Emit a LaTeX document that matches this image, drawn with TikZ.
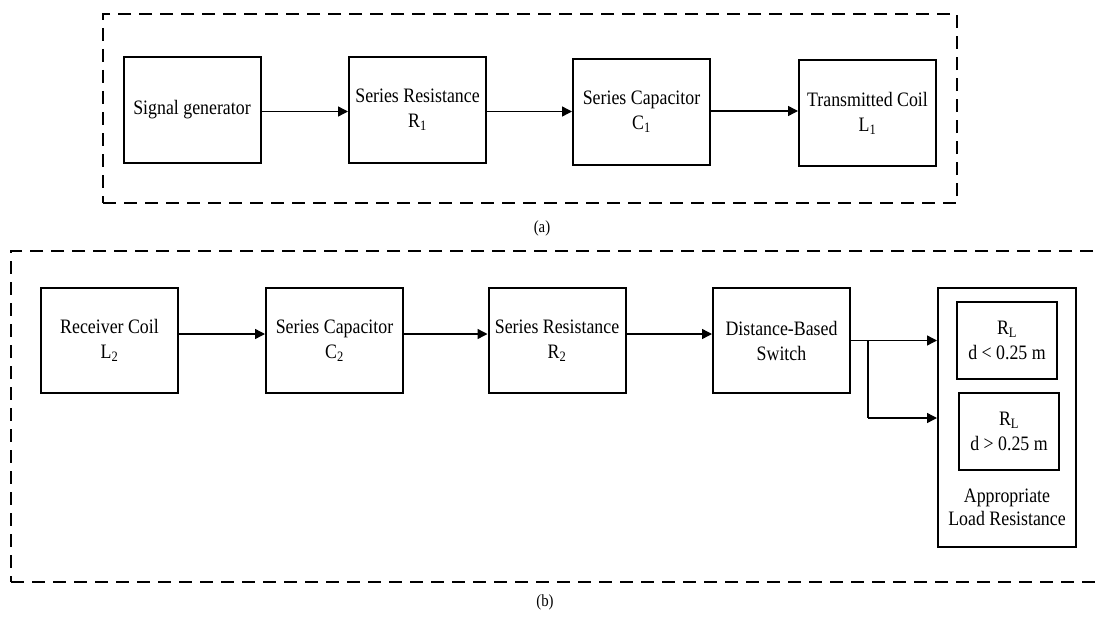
\documentclass[tikz,border=0pt]{standalone}
\usepackage{fontspec}
\setmainfont{Liberation Serif}[FakeStretch=0.87]
\usetikzlibrary{arrows.meta}
\tikzset{
  blk/.style={draw, line width=2pt, minimum width=137pt, minimum height=105pt, align=center, inner sep=0pt, font=\fontsize{20.5}{25}\selectfont},
  innerbox/.style={draw, line width=2pt, minimum width=100pt, minimum height=77pt, align=center, inner sep=0pt, font=\fontsize{20.5}{25}\selectfont},
  arr/.style={line width=1.4pt, -{Triangle[length=10pt,width=10pt]}},
  ln/.style={line width=1.4pt},
  frame/.style={draw, line width=2pt, dash pattern=on 13pt off 8pt},
  captxt/.style={font=\fontsize{17}{20}\selectfont, inner sep=0pt}
}
\begin{document}
\begin{tikzpicture}[x=1pt,y=-1pt]
\path[use as bounding box, clip] (0,0) rectangle (1097,618);
\fill[white] (0,0) rectangle (1097,618);
% (a)
\node[frame, minimum width=854pt, minimum height=189pt, inner sep=0pt] (fa) at (530,108.5) {};
\node[blk] (sg) at (192,110) {Signal generator};
\node[blk] (r1) at (417.5,110) {Series Resistance\\R\textsubscript{1}};
\node[blk] (c1) at (641.5,112) {Series Capacitor\\C\textsubscript{1}};
\node[blk] (tc) at (867.5,113) {Transmitted Coil\\L\textsubscript{1}};
\draw[arr] ([yshift=-1.5pt]sg.east) -- ([yshift=-1.5pt]sg.east -| r1.west);
\draw[arr] ([yshift=-1.5pt]r1.east) -- ([yshift=-1.5pt]r1.east -| c1.west);
\draw[arr] ([yshift=1pt]c1.east) -- ([yshift=1pt]c1.east -| tc.west);
\node[captxt] (la) at (542,228) {(a)};
% (b)
\node[frame, minimum width=1100pt, minimum height=331pt, inner sep=0pt] (fb) at (561,416.5) {};
\node[blk] (rc) at (109.5,340.5) {Receiver Coil\\L\textsubscript{2}};
\node[blk] (c2) at (334.5,340.5) {Series Capacitor\\C\textsubscript{2}};
\node[blk] (r2) at (557,340.5) {Series Resistance\\R\textsubscript{2}};
\node[blk] (sw) at (781.5,340.5) {Distance-Based\\Switch};
\node[draw, line width=2pt, minimum width=138pt, minimum height=259pt, inner sep=0pt] (ld) at (1007,417.5) {};
\node[innerbox] (rl1) at (1007,340.5) {R\textsubscript{L}\\d \textless{} 0.25 m};
\node[innerbox] (rl2) at (1009,431) {R\textsubscript{L}\\d \textgreater{} 0.25 m};
\node[align=center, inner sep=0pt, font=\fontsize{20.5}{23}\selectfont] (ap) at (1007,507) {Appropriate\\Load Resistance};
\draw[arr] ([yshift=6.5pt]rc.east) -- ([yshift=6.5pt]rc.east -| c2.west);
\draw[arr] ([yshift=6.5pt]c2.east) -- ([yshift=6.5pt]c2.east -| r2.west);
\draw[arr] ([yshift=6.5pt]r2.east) -- ([yshift=6.5pt]r2.east -| sw.west);
\coordinate (br) at (868,341);
\coordinate (bd) at (868,418);
\draw[arr] (sw.east) -- (sw.east -| ld.west);
\draw[ln] (br) -- (bd);
\draw[arr] (bd) -- (bd -| ld.west);
\node[captxt] (lb) at (545,602) {(b)};
\end{tikzpicture}
\end{document}
